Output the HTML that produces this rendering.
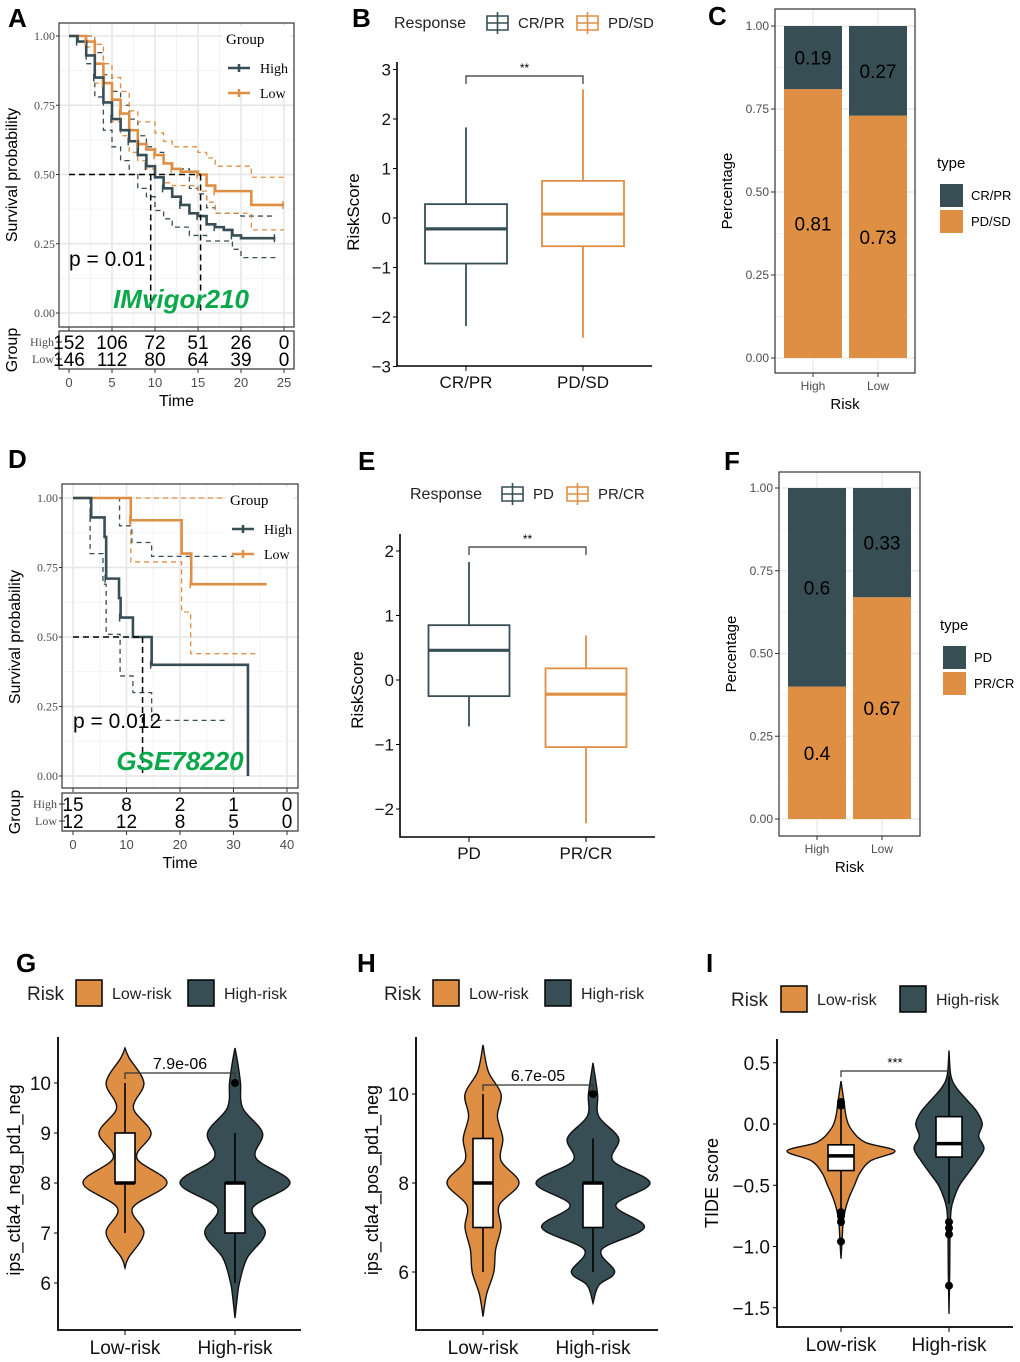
<!DOCTYPE html>
<html><head><meta charset="utf-8">
<style>
html,body{margin:0;padding:0;background:#fff;}
svg{display:block;font-family:"Liberation Sans",Arial,sans-serif;}
.serif{font-family:"Liberation Serif",serif;}
</style></head>
<body>
<svg id="fig" width="1020" height="1362" viewBox="0 0 1020 1362" xmlns="http://www.w3.org/2000/svg">
<rect x="0" y="0" width="1020" height="1362" fill="#fff"/>
<g font-weight="bold" font-size="26" fill="#000">
<text x="8" y="27">A</text>
<text x="352" y="27">B</text>
<text x="708" y="25">C</text>
<text x="8" y="468">D</text>
<text x="358" y="470">E</text>
<text x="724" y="470">F</text>
<text x="16" y="972">G</text>
<text x="357" y="972">H</text>
<text x="706" y="972">I</text>
</g>
<g id="layer"></g>
</svg>
<script>
// ===== Panel A data (KM IMvigor210) =====
const aTicks=[0,5,10,15,20,25];
const aYTicks=[0,0.25,0.5,0.75,1];
const aHighT=[0,1,2,3,4,5,6,7,8,9,10,11,12,13,14,15,16,17,18,19,20,24];
const aHighS=[1,0.98,0.93,0.85,0.76,0.70,0.66,0.62,0.57,0.53,0.49,0.45,0.42,0.39,0.36,0.35,0.32,0.31,0.30,0.28,0.27,0.27];
const aLowT=[0,2,3,4,5,6,7,8,9,10,11,12,13,15,16,17,21.2,25];
const aLowS=[1,0.98,0.90,0.83,0.77,0.72,0.66,0.61,0.59,0.57,0.54,0.52,0.51,0.50,0.46,0.44,0.39,0.39];
const aHighLoT=[0,2,3,4,5,6,7,8,9,10,11,12,14,16,19,20,24];
const aHighLoS=[1,0.9,0.78,0.66,0.6,0.55,0.5,0.45,0.42,0.37,0.34,0.31,0.28,0.26,0.23,0.2,0.2];
const aHighHiT=[0,2,3,4,5,6,7,8,9,10,11,12,14,15,16,17,20,24];
const aHighHiS=[1,1,0.94,0.86,0.8,0.75,0.7,0.64,0.6,0.58,0.54,0.52,0.45,0.43,0.38,0.36,0.35,0.35];
const aLowHiT=[0,3,4,5,6,7,8,10,11,12,15,16,17,21.2,25];
const aLowHiS=[1,0.97,0.9,0.85,0.8,0.73,0.69,0.65,0.62,0.6,0.58,0.56,0.53,0.49,0.49];
const aLowLoT=[0,2,3,4,5,6,7,8,9,10,11,12,15,16,17,21.2,25];
const aLowLoS=[1,0.96,0.83,0.76,0.69,0.64,0.58,0.55,0.52,0.49,0.47,0.46,0.44,0.40,0.36,0.30,0.30];
const aRiskHigh=[152,106,72,51,26,0];
const aRiskLow=[146,112,80,64,39,0];
const aMedians=[9.5,15.3];
// ===== Panel D data (KM GSE78220) =====
const dTicks=[0,10,20,30,40];
const dHighT=[0,3.4,5.9,6.2,8.6,8.9,11.2,14.7,32.7,32.7];
const dHighS=[1,0.93,0.86,0.71,0.64,0.57,0.5,0.4,0.4,0];
const dLowT=[0,10.8,20.3,22.1,36.2];
const dLowS=[1,0.92,0.80,0.69,0.69];
const dHighLoT=[0,3.2,5.6,6.2,8.8,11.2,14.7,29];
const dHighLoS=[1,0.80,0.69,0.51,0.36,0.30,0.20,0.20];
const dHighHiT=[0,8.7,11,14.7,30];
const dHighHiS=[1,0.90,0.84,0.79,0.79];
const dLowHiT=[0,34.6];
const dLowHiS=[1,1];
const dLowLoT=[0,10.8,20.3,22,34.3];
const dLowLoS=[1,0.77,0.59,0.44,0.44];
const dRiskHigh=[15,8,2,1,0];
const dRiskLow=[12,12,8,5,0];
const dMedians=[13];
// ===== Panel B data =====
const bCats=['CR/PR','PD/SD'];
const bQ1=[-0.92,-0.57], bMed=[-0.22,0.08], bQ3=[0.28,0.75], bLo=[-2.18,-2.42], bHi=[1.83,2.6];
const bYTicks=[-3,-2,-1,0,1,2,3];
// ===== Panel E data =====
const eCats=['PD','PR/CR'];
const eQ1=[-0.25,-1.04], eMed=[0.46,-0.22], eQ3=[0.85,0.18], eLo=[-0.72,-2.22], eHi=[1.83,0.69];
const eYTicks=[-2,-1,0,1,2];
// ===== Panel C / F data =====
const cCats=['High','Low'];
const cTop=[0.19,0.27], cBottom=[0.81,0.73];
const fCats=['High','Low'];
const fTop=[0.6,0.33], fBottom=[0.4,0.67];
const pctTicks=[0,0.25,0.5,0.75,1];
// ===== Panel G data =====
const gCats=['Low-risk','High-risk'];
const gLowV=[6.3,6.5,7,7.5,8,8.5,9,9.5,10,10.5,10.7];
const gLowD=[0,0.08,0.45,0.18,1.0,0.28,0.62,0.2,0.45,0.1,0];
const gHighV=[5.3,5.7,6,6.5,7,7.5,8,8.5,9,9.5,10,10.4,10.7];
const gHighD=[0,0.04,0.08,0.22,0.55,0.32,1.0,0.38,0.5,0.14,0.1,0.05,0];
const gQ1=[8,7], gMed=[8,8], gQ3=[9,8], gLo=[7,6], gHi=[10,9];
const gOut=[[],[10]];
const gYTicks=[6,7,8,9,10];
// ===== Panel H data =====
const hLowV=[5,5.5,6,6.5,7,7.5,8,8.5,9,9.5,10,10.5,11.1];
const hLowD=[0,0.1,0.3,0.35,0.5,0.45,1.0,0.5,0.55,0.4,0.5,0.15,0];
const hHighV=[5.3,5.7,6,6.5,7,7.5,8,8.5,9,9.5,10,10.7];
const hHighD=[0,0.1,0.38,0.15,0.9,0.4,1.0,0.35,0.45,0.1,0.08,0];
const hQ1=[7,7], hMed=[8,8], hQ3=[9,8], hLo=[6,6], hHi=[10,9];
const hOut=[[],[10]];
const hYTicks=[6,8,10];
// ===== Panel I data =====
const iLowV=[0.35,0.2,0.05,-0.05,-0.15,-0.22,-0.3,-0.4,-0.5,-0.6,-0.7,-0.8,-0.95,-1.1];
const iLowD=[0,0.05,0.1,0.2,0.45,1.0,0.55,0.35,0.25,0.15,0.08,0.04,0.02,0];
const iHighV=[0.6,0.4,0.3,0.2,0.1,0,-0.1,-0.2,-0.3,-0.4,-0.5,-0.6,-0.7,-0.9,-1.2,-1.55];
const iHighD=[0,0.05,0.2,0.5,0.8,0.95,0.85,1.0,0.8,0.55,0.3,0.15,0.06,0.03,0.02,0];
const iQ1=[-0.38,-0.27], iMed=[-0.26,-0.16], iQ3=[-0.17,0.06], iLo=[-0.7,-0.65], iHi=[0.15,0.4];
const iOut=[[0.15,0.18,-0.72,-0.75,-0.8,-0.96],[-0.8,-0.85,-0.9,-1.32]];
const iYTicks=[-1.5,-1.0,-0.5,0.0,0.5];

const NS='http://www.w3.org/2000/svg';
const root=document.getElementById('layer');
function mk(tag,attrs,parent){const e=document.createElementNS(NS,tag);for(const k in attrs)e.setAttribute(k,attrs[k]);(parent||root).appendChild(e);return e;}
function txt(x,y,s,attrs){const e=mk('text',Object.assign({x:x,y:y},attrs||{}));e.textContent=s;return e;}
const DARK='#374E55', ORG='#DF8F44';

function stepPath(ts,ss,X,Y){let d='M'+X(ts[0])+' '+Y(ss[0]);for(let i=1;i<ts.length;i++){d+=' H'+X(ts[i])+' V'+Y(ss[i]);}return d;}
function smooth(pts){let d='M'+pts[0][0]+' '+pts[0][1];for(let i=0;i<pts.length-1;i++){const p0=pts[Math.max(0,i-1)],p1=pts[i],p2=pts[i+1],p3=pts[Math.min(pts.length-1,i+2)];const c1=[p1[0]+(p2[0]-p0[0])/6,p1[1]+(p2[1]-p0[1])/6],c2=[p2[0]-(p3[0]-p1[0])/6,p2[1]-(p3[1]-p1[1])/6];d+=' C'+c1[0]+' '+c1[1]+' '+c2[0]+' '+c2[1]+' '+p2[0]+' '+p2[1];}return d;}

// ---------- KM plot ----------
function km(cfg){
  const X=t=>cfg.x0+t*cfg.kx, Y=s=>cfg.y0-s*cfg.ky;
  let e=mk('rect',{x:cfg.bx0,y:cfg.by0,width:cfg.bx1-cfg.bx0,height:cfg.by1-cfg.by0,fill:'#fff'});
  
  
  for(let i=0;i<cfg.xt.length;i++){
    if(i<cfg.xt.length-1){e=mk('line',{x1:X((cfg.xt[i]+cfg.xt[i+1])/2),x2:X((cfg.xt[i]+cfg.xt[i+1])/2),y1:cfg.by0,y2:cfg.by1,stroke:'#f3f3f3','stroke-width':1});
    
    }
    e=mk('line',{x1:X(cfg.xt[i]),x2:X(cfg.xt[i]),y1:cfg.by0,y2:cfg.by1,stroke:'#e6e6e6','stroke-width':1.5});
    
    
  }
  for(let i=0;i<aYTicks.length;i++){
    if(i<aYTicks.length-1){e=mk('line',{x1:cfg.bx0,x2:cfg.bx1,y1:Y(aYTicks[i]+0.125),y2:Y(aYTicks[i]+0.125),stroke:'#f3f3f3','stroke-width':1});
    
    }
    e=mk('line',{x1:cfg.bx0,x2:cfg.bx1,y1:Y(aYTicks[i]),y2:Y(aYTicks[i]),stroke:'#e6e6e6','stroke-width':1.5});
    
    
    e=txt(cfg.bx0-4,Y(aYTicks[i])+4,aYTicks[i].toFixed(2),{'text-anchor':'end','font-size':12,fill:'#4d4d4d','class':'serif'});
    
    
    e=mk('line',{x1:cfg.bx0-3,x2:cfg.bx0,y1:Y(aYTicks[i]),y2:Y(aYTicks[i]),stroke:'#333'});
    
    
  }
  const cis=[[cfg.hlT,cfg.hlS,DARK],[cfg.hhT,cfg.hhS,DARK],[cfg.lhT,cfg.lhS,ORG],[cfg.llT,cfg.llS,ORG]];
  cis.forEach(c=>{e=mk('path',{d:stepPath(c[0],c[1],X,Y),fill:'none',stroke:c[2],'stroke-width':1.3,'stroke-dasharray':'5,4'});
    
    });
  e=mk('path',{d:stepPath(cfg.lT,cfg.lS,X,Y),fill:'none',stroke:ORG,'stroke-width':2.6});
  
  
  e=mk('path',{d:stepPath(cfg.hT,cfg.hS,X,Y),fill:'none',stroke:DARK,'stroke-width':2.6});
  
  
  // censor marks at curve points
  [[cfg.hT,cfg.hS,DARK],[cfg.lT,cfg.lS,ORG]].forEach(c=>{for(let i=1;i<c[0].length;i+=2){if(c[1][i]<=0)continue;e=mk('path',{d:'M'+(X(c[0][i])-1)+' '+(Y(c[1][i])-4)+' v8',stroke:c[2],'stroke-width':1.5});
    
    }});
  // median lines
  const mx=Math.max(...cfg.med);
  e=mk('line',{x1:X(0),x2:X(mx),y1:Y(0.5),y2:Y(0.5),stroke:'#000','stroke-width':1.5,'stroke-dasharray':'6,4'});
  
  
  cfg.med.forEach(m=>{e=mk('line',{x1:X(m),x2:X(m),y1:Y(0.5),y2:Y(0),stroke:'#000','stroke-width':1.5,'stroke-dasharray':'6,4'});
    
    });
  e=mk('rect',{x:cfg.bx0,y:cfg.by0,width:cfg.bx1-cfg.bx0,height:cfg.by1-cfg.by0,fill:'none',stroke:'#333','stroke-width':1.2});
  
  
  // legend
  e=mk('rect',{x:cfg.lgx-6,y:cfg.lgy-18,width:68,height:68,fill:'#fff'});
  
  
  e=txt(cfg.lgx-2,cfg.lgy,'Group',{'font-size':15,'class':'serif'});
  
  
  [['High',DARK,24],['Low',ORG,49]].forEach(l=>{
    e=mk('path',{d:'M'+cfg.lgx+' '+(cfg.lgy+l[2])+' h22 M'+(cfg.lgx+11)+' '+(cfg.lgy+l[2]-4)+' v8',stroke:l[1],'stroke-width':2.5});
    
    
    e=txt(cfg.lgx+32,cfg.lgy+l[2]+5,l[0],{'font-size':14,'class':'serif'});
    
    
  });
  e=txt(cfg.ylx,cfg.yly,'Survival probability',{'font-size':16,'text-anchor':'middle',transform:'rotate(-90 '+cfg.ylx+' '+cfg.yly+')'});
  
  
  e=txt(cfg.px,cfg.py,cfg.p,{'font-size':21});
  
  
  e=txt(cfg.dsx,cfg.dsy,cfg.ds,{'font-size':26,'font-weight':'bold','font-style':'italic',fill:'#0aa84a','text-anchor':'middle'});
  
  
  // risk table
  e=mk('rect',{x:cfg.bx0,y:cfg.ty0,width:cfg.bx1-cfg.bx0,height:cfg.ty1-cfg.ty0,fill:'#fff',stroke:'#333','stroke-width':1.2});
  
  
  [['High',cfg.r1,cfg.rh],['Low',cfg.r2,cfg.rl]].forEach(r=>{
    e=txt(cfg.bx0-5,r[1]+4,r[0],{'font-size':12,fill:'#4d4d4d','text-anchor':'end','class':'serif'});
    
    
    e=mk('line',{x1:cfg.bx0-3,x2:cfg.bx0+3,y1:r[1],y2:r[1],stroke:'#333'});
    
    
    for(let i=0;i<cfg.xt.length;i++){
      e=txt(X(cfg.xt[i]),r[1]+7,String(r[2][i]),{'font-size':19,'text-anchor':'middle'});
      
      
    }
  });
  e=txt(cfg.gx,(cfg.ty0+cfg.ty1)/2,'Group',{'font-size':16,'text-anchor':'middle',transform:'rotate(-90 '+cfg.gx+' '+((cfg.ty0+cfg.ty1)/2)+')'});
  
  
  for(let i=0;i<cfg.xt.length;i++){
    e=mk('line',{x1:X(cfg.xt[i]),x2:X(cfg.xt[i]),y1:cfg.ty1,y2:cfg.ty1+4,stroke:'#333'});
    
    
    e=mk('line',{x1:X(cfg.xt[i]),x2:X(cfg.xt[i]),y1:cfg.by1,y2:cfg.by1+4,stroke:'#333'});
    
    
    e=txt(X(cfg.xt[i]),cfg.ty1+18,String(cfg.xt[i]),{'font-size':13,fill:'#4d4d4d','text-anchor':'middle'});
    
    
  }
  e=txt((cfg.bx0+cfg.bx1)/2,cfg.ty1+37,'Time',{'font-size':16,'text-anchor':'middle'});
  
  
}
km({id:'km-a',x0:69,kx:8.6,y0:313,ky:277,bx0:59,bx1:294,by0:23,by1:327,xt:aTicks,
 hT:aHighT,hS:aHighS,lT:aLowT,lS:aLowS,hlT:aHighLoT,hlS:aHighLoS,hhT:aHighHiT,hhS:aHighHiS,lhT:aLowHiT,lhS:aLowHiS,llT:aLowLoT,llS:aLowLoS,
 med:aMedians,lgx:228,lgy:44,ylx:17,yly:175,px:69,py:266,p:'p = 0.01',dsx:181,dsy:308,ds:'IMvigor210',
 ty0:331,ty1:369,r1:342,r2:359,rh:aRiskHigh,rl:aRiskLow,gx:17});
km({id:'km-d',x0:73,kx:5.35,y0:776,ky:278,bx0:62,bx1:298,by0:484,by1:788,xt:dTicks,
 hT:dHighT,hS:dHighS,lT:dLowT,lS:dLowS,hlT:dHighLoT,hlS:dHighLoS,hhT:dHighHiT,hhS:dHighHiS,lhT:dLowHiT,lhS:dLowHiS,llT:dLowLoT,llS:dLowLoS,
 med:dMedians,lgx:232,lgy:505,ylx:20,yly:637,px:73,py:728,p:'p = 0.012',dsx:180,dsy:770,ds:'GSE78220',
 ty0:793,ty1:831,r1:804,r2:821,rh:dRiskHigh,rl:dRiskLow,gx:20});

// ---------- Box plots ----------
function boxplot(cfg){
  const Y=v=>cfg.y0-v*cfg.ky;
  let e;
  e=txt(cfg.lx,cfg.ly+5,'Response',{'font-size':16,fill:'#222'});
  
  
  [[cfg.k1,DARK,cfg.cats[0]],[cfg.k2,ORG,cfg.cats[1]]].forEach(k=>{
    e=mk('path',{d:'M'+(k[0]+10.5)+' '+(cfg.ly-11)+' v22 M'+k[0]+' '+(cfg.ly-7)+' h21 v14 h-21 z M'+k[0]+' '+cfg.ly+' h21',fill:'#fff',stroke:k[1],'stroke-width':1.6});
    
    
    e=txt(k[0]+31,cfg.ly+5,k[2],{'font-size':15,fill:'#222'});
    
    
  });
  e=mk('path',{d:'M'+cfg.ax+' '+cfg.atop+' V'+cfg.ab+' H'+cfg.ar,fill:'none',stroke:'#000','stroke-width':1.6});
  
  
  cfg.yt.forEach(v=>{
    e=mk('line',{x1:cfg.ax-4,x2:cfg.ax,y1:Y(v),y2:Y(v),stroke:'#000'});
    
    
    e=txt(cfg.ax-6,Y(v)+6,(v<0?'\u2212'+(-v):String(v)),{'font-size':17,'text-anchor':'end',fill:'#111'});
    
    
  });
  e=txt(cfg.ylx,cfg.yly,'RiskScore',{'font-size':17,'text-anchor':'middle',transform:'rotate(-90 '+cfg.ylx+' '+cfg.yly+')'});
  
  
  for(let i=0;i<2;i++){
    const cx=cfg.xs[i], col=i?ORG:DARK, hw=cfg.hw;
    e=mk('line',{x1:cx,x2:cx,y1:Y(cfg.hi[i]),y2:Y(cfg.q3[i]),stroke:col,'stroke-width':1.8});
    
    
    e=mk('line',{x1:cx,x2:cx,y1:Y(cfg.q1[i]),y2:Y(cfg.lo[i]),stroke:col,'stroke-width':1.8});
    
    
    e=mk('rect',{x:cx-hw,y:Y(cfg.q3[i]),width:2*hw,height:Y(cfg.q1[i])-Y(cfg.q3[i]),fill:'#fff',stroke:col,'stroke-width':1.8});
    
    
    e=mk('line',{x1:cx-hw,x2:cx+hw,y1:Y(cfg.med[i]),y2:Y(cfg.med[i]),stroke:col,'stroke-width':3.2});
    
    
    e=mk('line',{x1:cx,x2:cx,y1:cfg.ab,y2:cfg.ab+5,stroke:'#000'});
    
    
    e=txt(cx,cfg.ab+22,cfg.cats[i],{'font-size':17,'text-anchor':'middle',fill:'#111'});
    
    
  }
  e=mk('path',{d:'M'+cfg.xs[0]+' '+(cfg.brY+8)+' V'+cfg.brY+' H'+cfg.xs[1]+' V'+(cfg.brY+8),fill:'none',stroke:'#333','stroke-width':1.2});
  
  
  e=txt((cfg.xs[0]+cfg.xs[1])/2,cfg.brY-4,'**',{'font-size':12,'text-anchor':'middle'});
  
  
}
boxplot({id:'box-b',y0:218,ky:49.5,ax:397,atop:62,ab:366,ar:652,xs:[466,583],hw:41,cats:bCats,yt:bYTicks,
 q1:bQ1,med:bMed,q3:bQ3,lo:bLo,hi:bHi,brY:76,lx:394,ly:23,k1:487,k2:577,ylx:359,yly:212});
boxplot({id:'box-e',y0:680,ky:64.5,ax:400,atop:534,ab:837,ar:655,xs:[469,586],hw:40.5,cats:eCats,yt:eYTicks,
 q1:eQ1,med:eMed,q3:eQ3,lo:eLo,hi:eHi,brY:547,lx:410,ly:494,k1:502,k2:567,ylx:363,yly:690});

// ---------- Stacked bars ----------
function stacked(cfg){
  const Y=v=>cfg.y0-v*(cfg.y0-cfg.y1);
  let e=mk('rect',{x:cfg.bx0,y:cfg.by0,width:cfg.bx1-cfg.bx0,height:cfg.by1-cfg.by0,fill:'#fff'});
  
  
  pctTicks.forEach((v,i)=>{
    e=mk('line',{x1:cfg.bx0,x2:cfg.bx1,y1:Y(v),y2:Y(v),stroke:'#ebebeb','stroke-width':1.4});
    
    
    if(i<pctTicks.length-1){e=mk('line',{x1:cfg.bx0,x2:cfg.bx1,y1:Y(v+0.125),y2:Y(v+0.125),stroke:'#f4f4f4'});
    
    }
    e=mk('line',{x1:cfg.bx0-4,x2:cfg.bx0,y1:Y(v),y2:Y(v),stroke:'#333'});
    
    
    e=txt(cfg.bx0-6,Y(v)+4,v.toFixed(2),{'font-size':12,fill:'#4d4d4d','text-anchor':'end'});
    
    
  });
  for(let i=0;i<2;i++){
    const cx=cfg.xs[i];
    e=mk('line',{x1:cx,x2:cx,y1:cfg.by0,y2:cfg.by1,stroke:'#ebebeb','stroke-width':1.4});
    
    
  }
  for(let i=0;i<2;i++){
    const cx=cfg.xs[i];
    e=mk('rect',{x:cx-cfg.hw,y:Y(cfg.bot[i]),width:2*cfg.hw,height:Y(0)-Y(cfg.bot[i]),fill:ORG});
    
    
    e=mk('rect',{x:cx-cfg.hw,y:Y(cfg.bot[i]+cfg.top[i]),width:2*cfg.hw,height:Y(cfg.bot[i])-Y(cfg.bot[i]+cfg.top[i]),fill:DARK});
    
    
    e=txt(cx,Y(cfg.bot[i]+cfg.top[i]/2)+7,String(cfg.top[i]),{'font-size':19,'text-anchor':'middle'});
    
    
    e=txt(cx,Y(cfg.bot[i]/2)+7,String(cfg.bot[i]),{'font-size':19,'text-anchor':'middle'});
    
    
    e=mk('line',{x1:cx,x2:cx,y1:cfg.by1,y2:cfg.by1+4,stroke:'#333'});
    
    
    e=txt(cx,cfg.by1+17,cfg.cats[i],{'font-size':12,fill:'#4d4d4d','text-anchor':'middle'});
    
    
  }
  e=mk('rect',{x:cfg.bx0,y:cfg.by0,width:cfg.bx1-cfg.bx0,height:cfg.by1-cfg.by0,fill:'none',stroke:'#333','stroke-width':1.2});
  
  
  e=txt((cfg.bx0+cfg.bx1)/2,cfg.by1+36,'Risk',{'font-size':15,'text-anchor':'middle'});
  
  
  e=txt(cfg.ylx,(cfg.by0+cfg.by1)/2,'Percentage',{'font-size':15,'text-anchor':'middle',transform:'rotate(-90 '+cfg.ylx+' '+((cfg.by0+cfg.by1)/2)+')'});
  
  
  e=txt(cfg.lgx-3,cfg.lgy,'type',{'font-size':15});
  
  
  [[DARK,cfg.ln[0],0],[ORG,cfg.ln[1],26]].forEach(l=>{
    e=mk('rect',{x:cfg.lgx,y:cfg.lgy+16+l[2],width:23,height:23,fill:l[0]});
    
    
    e=txt(cfg.lgx+31,cfg.lgy+32+l[2],l[1],{'font-size':13});
    
    
  });
}
stacked({id:'bar-c',y0:358,y1:26,bx0:775,bx1:915,by0:9,by1:373,xs:[813,878],hw:29,cats:cCats,top:cTop,bot:cBottom,ylx:732,lgx:940,lgy:168,ln:['CR/PR','PD/SD']});
stacked({id:'bar-f',y0:819,y1:488,bx0:779,bx1:920,by0:472,by1:836,xs:[817,882],hw:29,cats:fCats,top:fTop,bot:fBottom,ylx:736,lgx:943,lgy:630,ln:['PD','PR/CR']});

// ---------- Violins ----------
function violin(cfg){
  const Y=v=>cfg.y0-(v-cfg.v0)*cfg.ky;
  let e;
  e=txt(cfg.lx,cfg.ly+7,'Risk',{'font-size':19,fill:'#222'});
  
  
  [[cfg.s1,ORG,'Low-risk'],[cfg.s2,DARK,'High-risk']].forEach(s=>{
    e=mk('rect',{x:s[0],y:cfg.ly-13,width:26,height:26,fill:s[1],stroke:'#000','stroke-width':1.5});
    
    
    e=txt(s[0]+36,cfg.ly+6,s[2],{'font-size':16,fill:'#222'});
    
    
  });
  if(cfg.box){e=mk('rect',{x:cfg.ax,y:cfg.atop,width:cfg.ar-cfg.ax,height:cfg.ab-cfg.atop,fill:'none',stroke:'#000','stroke-width':2});}
  else{e=mk('path',{d:'M'+cfg.ax+' '+cfg.atop+' V'+cfg.ab+' H'+cfg.ar,fill:'none',stroke:'#000','stroke-width':1.8});}
  
  
  cfg.yt.forEach(v=>{
    e=mk('line',{x1:cfg.ax-4,x2:cfg.ax,y1:Y(v),y2:Y(v),stroke:'#000'});
    
    
    const lab=cfg.dec?(v<0?'\u2212'+(-v).toFixed(1):v.toFixed(1)):String(v);
    e=txt(cfg.ax-7,Y(v)+7,lab,{'font-size':19,'text-anchor':'end',fill:'#111'});
    
    
  });
  e=txt(cfg.ylx,cfg.yly,cfg.ylab,{'font-size':18,'text-anchor':'middle',transform:'rotate(-90 '+cfg.ylx+' '+cfg.yly+')'});
  
  
  const groups=[[cfg.lv,cfg.ld,ORG,cfg.mw[0]],[cfg.hv,cfg.hd,DARK,cfg.mw[1]]];
  for(let i=0;i<2;i++){
    const cx=cfg.xs[i],g=groups[i];
    const right=g[0].map((v,j)=>[cx+g[1][j]*g[3],Y(v)]);
    const left=g[0].map((v,j)=>[cx-g[1][j]*g[3],Y(v)]).reverse();
    e=mk('path',{d:smooth(right)+' '+smooth(left).replace('M','L')+' Z',fill:g[2],stroke:'#111','stroke-width':1.4});
    
    
    e=mk('line',{x1:cx,x2:cx,y1:Y(cfg.hi[i]),y2:Y(cfg.lo[i]),stroke:'#000','stroke-width':1.6});
    
    
    e=mk('rect',{x:cx-cfg.bw,y:Y(cfg.q3[i]),width:2*cfg.bw,height:Math.max(1,Y(cfg.q1[i])-Y(cfg.q3[i])),fill:'#fff',stroke:'#000','stroke-width':1.6});
    
    
    e=mk('line',{x1:cx-cfg.bw,x2:cx+cfg.bw,y1:Y(cfg.med[i]),y2:Y(cfg.med[i]),stroke:'#000','stroke-width':3.5});
    
    
    cfg.out[i].forEach(o=>{e=mk('circle',{cx:cx,cy:Y(o),r:4,fill:'#000'});
      
      });
    e=mk('line',{x1:cx,x2:cx,y1:cfg.ab,y2:cfg.ab+5,stroke:'#000'});
    
    
    e=txt(cx,cfg.ab+24,cfg.cats[i],{'font-size':19,'text-anchor':'middle',fill:'#111'});
    
    
  }
  e=mk('path',{d:'M'+cfg.xs[0]+' '+(cfg.brY+6)+' V'+cfg.brY+' H'+cfg.xs[1]+' V'+(cfg.brY+6),fill:'none',stroke:'#333','stroke-width':1.2});
  
  
  e=txt((cfg.xs[0]+cfg.xs[1])/2,cfg.brY-4,cfg.sig,{'font-size':cfg.sigSize,'text-anchor':'middle'});
  
  
}
violin({id:'violin-g',v0:10,y0:1083,ky:50,ax:58,atop:1037,ab:1330,ar:301,xs:[125,235],mw:[42,55],bw:10,cats:gCats,yt:gYTicks,
 lv:gLowV,ld:gLowD,hv:gHighV,hd:gHighD,q1:gQ1,med:gMed,q3:gQ3,lo:gLo,hi:gHi,out:gOut,brY:1073,sig:'7.9e-06',sigSize:16,
 lx:27,ly:993,s1:76,s2:188,ylx:20,yly:1180,ylab:'ips_ctla4_neg_pd1_neg'});
violin({id:'violin-h',v0:10,y0:1094,ky:44.5,ax:416,atop:1037,ab:1330,ar:658,xs:[483,593],mw:[36,57],bw:10,cats:gCats,yt:hYTicks,
 lv:hLowV,ld:hLowD,hv:hHighV,hd:hHighD,q1:hQ1,med:hMed,q3:hQ3,lo:hLo,hi:hHi,out:hOut,brY:1085,sig:'6.7e-05',sigSize:16,
 lx:384,ly:993,s1:433,s2:545,ylx:378,yly:1180,ylab:'ips_ctla4_pos_pd1_neg'});
violin({id:'violin-i',v0:0,y0:1124,ky:122.5,ax:777,atop:1039,ab:1327,ar:1013,xs:[841,949],mw:[54,35],bw:13,cats:gCats,yt:iYTicks,dec:true,
 lv:iLowV,ld:iLowD,hv:iHighV,hd:iHighD,q1:iQ1,med:iMed,q3:iQ3,lo:iLo,hi:iHi,out:iOut,brY:1071,sig:'***',sigSize:13,
 lx:731,ly:999,s1:781,s2:900,ylx:718,yly:1183,ylab:'TIDE score'});
</script>
</body></html>
